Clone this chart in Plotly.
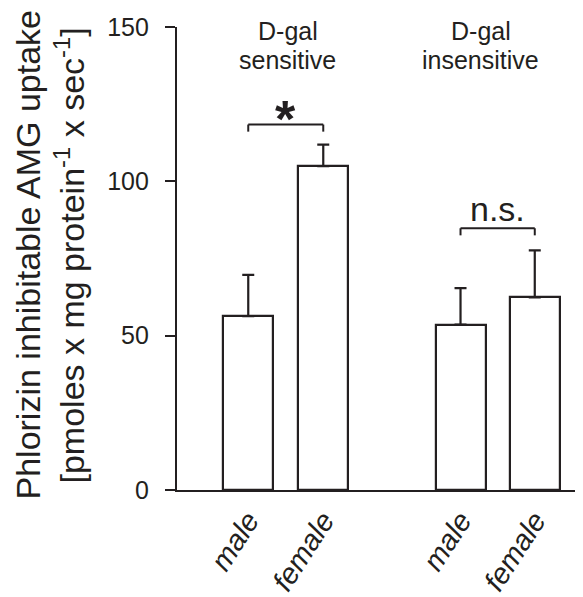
import plotly.graph_objects as go

# ---- data ----
categories = ["male", "female", "male", "female"]
group_lines = [["D-gal", "sensitive"], ["D-gal", "insensitive"]]
x_pos = [1.0, 2.0, 3.83, 4.82]
values = [56.3, 104.9, 53.6, 62.4]
errors = [13.4, 7.0, 11.8, 15.2]
brackets = [(1.0, 2.0, 118.4, "<b>*</b>"), (3.83, 4.82, 84.8, "n.s.")]
y_ticks = [0, 50, 100, 150]

INK = "#231f20"
FONT = "Liberation Sans, Arial, Helvetica, sans-serif"

fig = go.Figure()
fig.add_trace(go.Bar(
    x=x_pos, y=values, width=0.667,
    marker=dict(color="white", line=dict(color=INK, width=2.2)),
    error_y=dict(type="data", array=errors, arrayminus=[0] * 4, symmetric=False,
                 color=INK, thickness=2.2, width=6),
    showlegend=False,
))

shapes = []
annotations = []
for x0, x1, yb, label in brackets:
    drop = 2.3
    for seg in [(x0, yb - drop, x0, yb), (x0, yb, x1, yb), (x1, yb, x1, yb - drop)]:
        shapes.append(dict(type="line", xref="x", yref="y", x0=seg[0], y0=seg[1],
                           x1=seg[2], y1=seg[3], line=dict(color=INK, width=2)))
    star = label.startswith("<b>")
    annotations.append(dict(
        x=(x0 + x1) / 2, y=yb, xref="x", yref="y", text=label, showarrow=False,
        yanchor="bottom", yshift=-25 if star else -2,
        font=dict(size=52 if star else 34, color=INK, family=FONT)))

group_centers = [(x_pos[0] + x_pos[1]) / 2, (x_pos[2] + x_pos[3]) / 2]
for gc, lines, shift in zip(group_centers, group_lines, [2, -17]):
    for line, yv in zip(lines, [148.7, 139.4]):
        annotations.append(dict(x=gc, y=yv, xref="x", yref="y", text=line, showarrow=False,
                                xshift=shift, yanchor="middle", align="center",
                                font=dict(size=25, color=INK, family=FONT)))

annotations.append(dict(x=-150 / 406, y=0.5, xref="paper", yref="paper",
                        text="Phlorizin inhibitable AMG uptake", textangle=-90,
                        showarrow=False, xanchor="center", yanchor="middle", yshift=4,
                        font=dict(size=34, color=INK, family=FONT)))
annotations.append(dict(x=-108 / 406, y=0.5, xref="paper", yref="paper",
                        text="[pmoles x mg protein<sup>-1</sup> x sec<sup>-1</sup>]",
                        textangle=-90, showarrow=False, xanchor="center", yanchor="middle",
                        yshift=3, font=dict(size=34, color=INK, family=FONT)))

# page body has an 8px margin, so the figure is sized to fit the 583x597 window
fig.update_layout(
    width=575, height=589,
    margin=dict(l=169, r=0, t=19, b=105),
    plot_bgcolor="white", paper_bgcolor="white",
    font=dict(family=FONT, color=INK),
    shapes=shapes, annotations=annotations,
    xaxis=dict(range=[0.05, 5.463], tickmode="array", tickvals=x_pos,
               ticktext=[f"<i>{c}</i>" for c in categories], tickangle=-57,
               tickfont=dict(size=29, color=INK, family=FONT),
               showline=True, linecolor=INK, linewidth=2.2, ticks="",
               showgrid=False, zeroline=False, fixedrange=True),
    yaxis=dict(range=[0, 150], tickmode="array", tickvals=y_ticks,
               tickfont=dict(size=25, color=INK, family=FONT),
               showline=True, linecolor=INK, linewidth=2.2,
               ticks="outside", ticklen=10, tickwidth=2.2, tickcolor=INK,
               ticklabelstandoff=11,
               showgrid=False, zeroline=False),
    bargap=0,
)

fig.write_html("out.html")
